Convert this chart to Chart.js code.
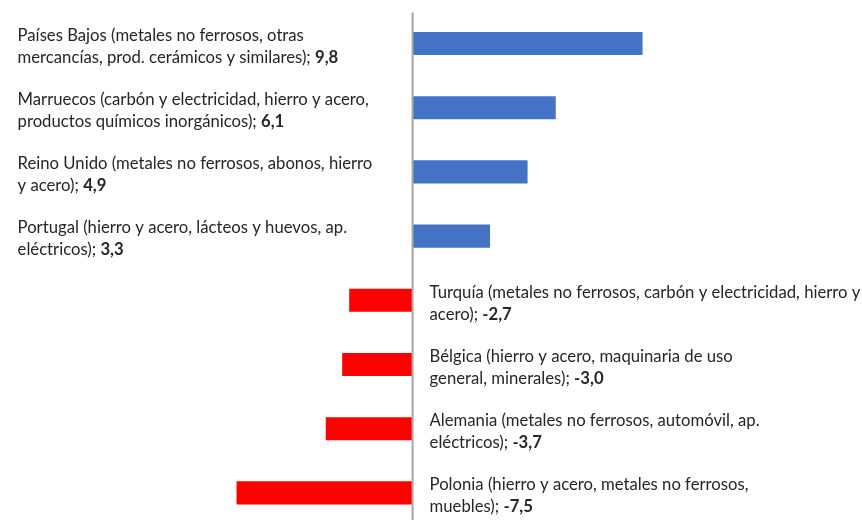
<!DOCTYPE html>
<html lang="es">
<head>
<meta charset="utf-8">
<script src="https://cdn.jsdelivr.net/npm/chart.js@4.4.0/dist/chart.umd.min.js"></script>
<style>
    html, body { margin: 0; padding: 0; background: #fff; overflow: hidden; }
    .chart-box { position: relative; width: 862px; height: 526px; }
</style>
</head>
<body>
<div class="chart-box"><canvas id="saldoChart"></canvas></div>
<script>
// Países y productos (cada entrada = líneas del rótulo)
const paises = [
    ['Países Bajos (metales no ferrosos, otras', 'mercancías, prod. cerámicos y similares);'],
    ['Marruecos (carbón y electricidad, hierro y acero,', 'productos químicos inorgánicos);'],
    ['Reino Unido (metales no ferrosos, abonos, hierro', 'y acero);'],
    ['Portugal (hierro y acero, lácteos y huevos, ap.', 'eléctricos);'],
    ['Turquía (metales no ferrosos, carbón y electricidad, hierro y', 'acero);'],
    ['Bélgica (hierro y acero, maquinaria de uso', 'general, minerales);'],
    ['Alemania (metales no ferrosos, automóvil, ap.', 'eléctricos);'],
    ['Polonia (hierro y acero, metales no ferrosos,', 'muebles);']
];
const valores = [9.8, 6.1, 4.9, 3.3, -2.7, -3.0, -3.7, -7.5];

const AZUL = '#4472C4';
const ROJO = '#FF0000';
const FUENTE = 'Lato, "Open Sans", sans-serif';

function fmt(v) {
    return v.toFixed(1).replace('.', ',');
}

// Eje vertical en el cero y rótulos junto a cada barra
const rotulos = {
    id: 'rotulos',
    afterDatasetsDraw(chart) {
        const ctx = chart.ctx;
        const area = chart.chartArea;
        const x0 = chart.scales.x.getPixelForValue(0);

        ctx.save();
        ctx.strokeStyle = '#A6A6A6';
        ctx.lineWidth = 2;
        ctx.beginPath();
        ctx.moveTo(x0, area.top + 1);
        ctx.lineTo(x0, area.bottom + 2);
        ctx.stroke();

        const meta = chart.getDatasetMeta(0);
        ctx.textBaseline = 'middle';
        ctx.fillStyle = '#262626';
        const lh = 22;
        meta.data.forEach(function(bar, i) {
            const lineas = paises[i];
            const v = valores[i];
            const left = v >= 0 ? x0 - 395 : x0 + 17;
            const y1 = bar.y - lh / 2 + 3;
            ctx.font = '16.7px ' + FUENTE;
            ctx.fillText(lineas[0], left, y1);
            ctx.fillText(lineas[1] + ' ', left, y1 + lh);
            const w = ctx.measureText(lineas[1] + ' ').width;
            ctx.font = 'bold 16.7px ' + FUENTE;
            ctx.fillText(fmt(v), left + w, y1 + lh);
        });
        ctx.restore();
    }
};

new Chart(document.getElementById('saldoChart'), {
    type: 'bar',
    data: {
        labels: paises.map(p => p.join(' ')),
        datasets: [{
            data: valores,
            backgroundColor: valores.map(v => v >= 0 ? AZUL : ROJO),
            borderWidth: 0,
            barPercentage: 0.36,
            categoryPercentage: 1
        }]
    },
    options: {
        indexAxis: 'y',
        responsive: true,
        maintainAspectRatio: false,
        animation: false,
        layout: { padding: { top: 11.4, bottom: 1, left: 0, right: 0 } },
        plugins: {
            legend: { display: false },
            tooltip: { enabled: false }
        },
        scales: {
            x: { display: false, min: -17.58, max: 19.15 },
            y: { display: false }
        }
    },
    plugins: [rotulos]
});
</script>
</body>
</html>
